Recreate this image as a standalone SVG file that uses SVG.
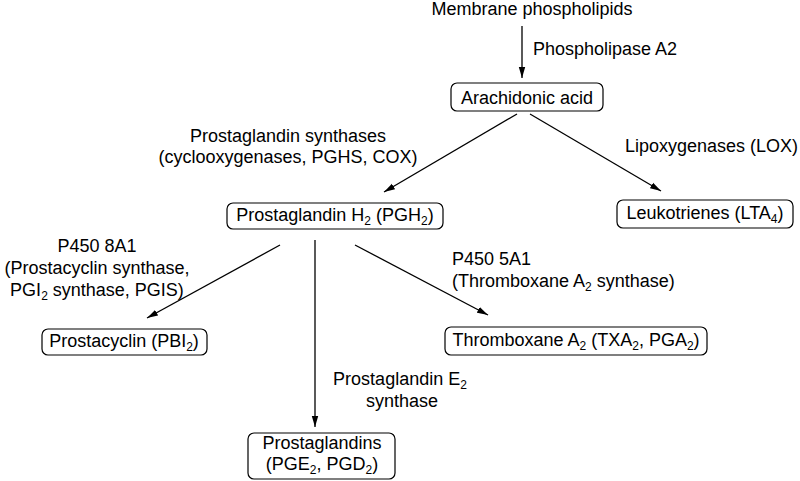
<svg xmlns="http://www.w3.org/2000/svg" width="800" height="481" viewBox="0 0 800 481">
<style>
text { font-family: "Liberation Sans", Arial, sans-serif; font-size: 18px; fill: #000; }
.c { text-anchor: middle; }
.sub { font-size: 12px; }
.box { fill: #fff; stroke: #000; stroke-width: 1.2; }
.edge { stroke: #000; stroke-width: 1.3; fill: none; marker-end: url(#arrow); }
</style>
<defs>
<marker id="arrow" markerUnits="userSpaceOnUse" markerWidth="12" markerHeight="8" refX="11" refY="4" orient="auto">
<path d="M0,0.8 L11,4 L0,7.2 Z" fill="#000"/>
</marker>
</defs>
<rect width="800" height="481" fill="#fff"/>
<g id="connectors">
<line class="edge" x1="522" y1="26" x2="522" y2="78"/>
<line class="edge" x1="517" y1="114" x2="384" y2="192"/>
<line class="edge" x1="530" y1="114" x2="661" y2="191"/>
<line class="edge" x1="280" y1="245" x2="147" y2="318"/>
<line class="edge" x1="315" y1="240" x2="315" y2="427"/>
<line class="edge" x1="355" y1="245" x2="488" y2="315"/>
</g>
<g id="labels">
<text x="533" y="55">Phospholipase A2</text>
<text class="c" x="288" y="142">Prostaglandin synthases</text>
<text class="c" x="288" y="163">(cyclooxygenases, PGHS, COX)</text>
<text x="625" y="152">Lipoxygenases (LOX)</text>
<text class="c" x="97" y="252">P450 8A1</text>
<text class="c" x="97" y="274">(Prostacyclin synthase,</text>
<text class="c" x="97" y="296">PGI<tspan class="sub" dy="4">2</tspan><tspan dy="-4"> synthase, PGIS)</tspan></text>
<text x="452" y="265">P450 5A1</text>
<text x="452" y="287">(Thromboxane A<tspan class="sub" dy="4">2</tspan><tspan dy="-4"> synthase)</tspan></text>
<text class="c" x="400" y="385">Prostaglandin E<tspan class="sub" dy="4">2</tspan></text>
<text class="c" x="402" y="407">synthase</text>
</g>
<g id="membrane">
<text class="c" x="532" y="15">Membrane phospholipids</text>
</g>
<g id="arachidonic">
<rect class="box" x="451" y="83" width="152" height="28" rx="6"/>
<text class="c" x="527" y="104">Arachidonic acid</text>
</g>
<g id="pgh2">
<rect class="box" x="227" y="203" width="216" height="26" rx="6"/>
<text class="c" x="335" y="221">Prostaglandin H<tspan class="sub" dy="4">2</tspan><tspan dy="-4"> (PGH</tspan><tspan class="sub" dy="4">2</tspan><tspan dy="-4">)</tspan></text>
</g>
<g id="leukotrienes">
<rect class="box" x="617" y="200" width="176" height="28" rx="6"/>
<text class="c" x="705" y="219">Leukotrienes (LTA<tspan class="sub" dy="4">4</tspan><tspan dy="-4">)</tspan></text>
</g>
<g id="prostacyclin">
<rect class="box" x="42" y="329" width="165" height="26" rx="6"/>
<text class="c" x="124" y="347">Prostacyclin (PBI<tspan class="sub" dy="4">2</tspan><tspan dy="-4">)</tspan></text>
</g>
<g id="thromboxane">
<rect class="box" x="445" y="327" width="262" height="28" rx="6"/>
<text class="c" x="576" y="346">Thromboxane A<tspan class="sub" dy="4">2</tspan><tspan dy="-4"> (TXA</tspan><tspan class="sub" dy="4">2</tspan><tspan dy="-4">, PGA</tspan><tspan class="sub" dy="4">2</tspan><tspan dy="-4">)</tspan></text>
</g>
<g id="prostaglandins">
<rect class="box" x="248" y="433" width="147" height="46" rx="6"/>
<text class="c" x="322" y="449">Prostaglandins</text>
<text class="c" x="322" y="470">(PGE<tspan class="sub" dy="4">2</tspan><tspan dy="-4">, PGD</tspan><tspan class="sub" dy="4">2</tspan><tspan dy="-4">)</tspan></text>
</g>
</svg>
